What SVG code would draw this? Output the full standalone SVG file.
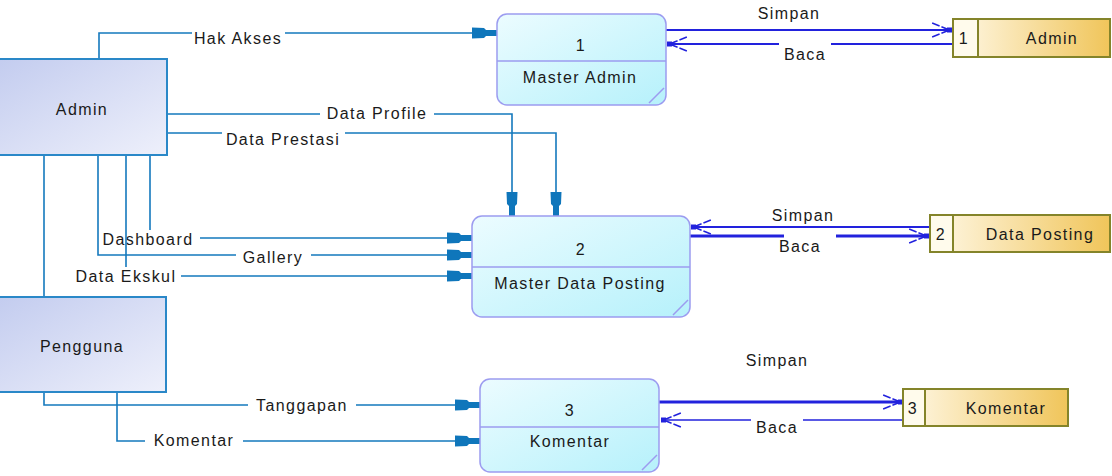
<svg xmlns="http://www.w3.org/2000/svg" width="1112" height="476" viewBox="0 0 1112 476">
<style>
text{font-family:"Liberation Sans",Arial,sans-serif;font-size:16px;letter-spacing:1.4px;fill:#1a1a1a;text-anchor:middle}
.ent{stroke:#2a88c8;stroke-width:2;fill:url(#gEnt)}
.proc{stroke:#9c9cf0;stroke-width:1.5;fill:url(#gProc)}
.pdiv{stroke:#9c9cf0;stroke-width:1.5;fill:none}
.st{stroke:#84842a;stroke-width:2}
.c{stroke:#1479bd;stroke-width:1.6;fill:none}
.s{stroke:#2222dd;fill:none}
.bg{fill:#fff}
</style>
<defs>
<linearGradient id="gEnt" x1="0" y1="0" x2="1" y2="1">
<stop offset="0" stop-color="#c3ccef"/>
<stop offset="1" stop-color="#eef0fb"/>
</linearGradient>
<linearGradient id="gProc" x1="0" y1="0" x2="1" y2="1">
<stop offset="0" stop-color="#ecfcff"/>
<stop offset="1" stop-color="#b6f1fb"/>
</linearGradient>
<linearGradient id="gStore" x1="0" y1="0" x2="1" y2="0">
<stop offset="0" stop-color="#fff8e6"/>
<stop offset="1" stop-color="#f0c55a"/>
</linearGradient>
<marker id="ah" markerUnits="userSpaceOnUse" viewBox="-26 -7 27 14" markerWidth="27" markerHeight="14" refX="0" refY="0" orient="auto">
<path d="M-25,-5.5 L-13,-5 L-11,-3 L0,-3 L0,3 L-11,3 L-13,5 L-25,5.5 Z" fill="#0f76bb"/>
</marker>
<marker id="oa" markerUnits="userSpaceOnUse" viewBox="-22 -9 23 18" markerWidth="23" markerHeight="18" refX="0" refY="0" orient="auto">
<rect x="-5" y="-2.5" width="5" height="5" fill="#2222dd"/>
<path d="M-5,-1 L-20,-7 M-5,1 L-20,7" stroke="#2222dd" stroke-width="1.5" stroke-dasharray="6,2,8" fill="none"/>
</marker>
</defs>
<rect width="1112" height="476" fill="#fff"/>

<g id="connectors">
<path class="c" d="M44,155 V297"/>
<path class="c" d="M99,59 V33 H497" stroke-width="2.2" marker-end="url(#ah)"/>
<rect class="bg" x="192" y="28" width="93" height="18"/>
<text x="238" y="44">Hak Akses</text>
<path class="c" d="M167,114 H512 V217" marker-end="url(#ah)"/>
<rect class="bg" x="320" y="106" width="114" height="15"/>
<text x="377" y="119">Data Profile</text>
<path class="c" d="M167,133 H556 V217" marker-end="url(#ah)"/>
<rect class="bg" x="222" y="131" width="123" height="16"/>
<text x="283" y="145">Data Prestasi</text>
<path class="c" d="M150,155 V238 H472" marker-end="url(#ah)"/>
<rect class="bg" x="97" y="230" width="103" height="17"/>
<text x="148" y="245">Dashboard</text>
<path class="c" d="M98,155 V255 H472" marker-end="url(#ah)"/>
<rect class="bg" x="236" y="249" width="75" height="18"/>
<text x="273" y="263">Gallery</text>
<path class="c" d="M126,155 V276 H472" marker-end="url(#ah)"/>
<rect class="bg" x="72" y="267" width="109" height="17"/>
<text x="126" y="282">Data Ekskul</text>
<path class="c" d="M44,392 V405 H480" marker-end="url(#ah)"/>
<rect class="bg" x="248" y="396" width="108" height="19"/>
<text x="302" y="411">Tanggapan</text>
<path class="c" d="M117,392 V441 H480" marker-end="url(#ah)"/>
<rect class="bg" x="145" y="432" width="98" height="16"/>
<text x="194" y="446">Komentar</text>

<path class="s" stroke-width="2" d="M666,30 H952" marker-end="url(#oa)"/>
<text x="789" y="19">Simpan</text>
<path class="s" stroke-width="2" d="M952,44 H667" marker-end="url(#oa)"/>
<rect class="bg" x="779" y="40" width="52" height="16"/>
<text x="805" y="60">Baca</text>

<path class="s" stroke-width="2" d="M929,227 H691" marker-end="url(#oa)"/>
<text x="803" y="221">Simpan</text>
<path class="s" stroke-width="3" d="M690,236 H929" marker-end="url(#oa)"/>
<rect class="bg" x="784" y="233" width="52" height="6"/>
<text x="800" y="252">Baca</text>

<path class="s" stroke-width="3" d="M659,402 H903" marker-end="url(#oa)"/>
<text x="777" y="366">Simpan</text>
<path class="s" stroke-width="1.6" d="M903,420 H661" marker-end="url(#oa)"/>
<rect class="bg" x="751" y="416" width="52" height="16"/>
<text x="777" y="433">Baca</text>
</g>

<g id="admin">
<rect class="ent" x="-2" y="59" width="169" height="96"/>
<text x="82" y="115">Admin</text>
</g>
<g id="pengguna">
<rect class="ent" x="-2" y="297" width="168" height="95"/>
<text x="82" y="352">Pengguna</text>
</g>

<g id="p1">
<rect class="proc" x="497" y="14" width="169" height="91" rx="10"/>
<path class="pdiv" d="M497,61 H666 M664,88 L649,103"/>
<text x="581" y="51">1</text>
<text x="580" y="83">Master Admin</text>
</g>
<g id="p2">
<rect class="proc" x="472" y="216" width="218" height="101" rx="10"/>
<path class="pdiv" d="M472,267 H690 M688,300 L673,315"/>
<text x="581" y="255">2</text>
<text x="580" y="289">Master Data Posting</text>
</g>
<g id="p3">
<rect class="proc" x="480" y="379" width="179" height="93" rx="10"/>
<path class="pdiv" d="M480,427 H659 M657,455 L642,470"/>
<text x="570" y="416">3</text>
<text x="570" y="447">Komentar</text>
</g>

<g id="s1">
<rect class="st" x="953" y="19" width="157" height="38" fill="url(#gStore)"/>
<rect class="st" x="953" y="19" width="25" height="38" fill="#fffbec"/>
<text x="964" y="44">1</text>
<text x="1052" y="44">Admin</text>
</g>
<g id="s2">
<rect class="st" x="930" y="215" width="180" height="37" fill="url(#gStore)"/>
<rect class="st" x="930" y="215" width="23" height="37" fill="#fffbec"/>
<text x="941" y="240">2</text>
<text x="1040" y="240">Data Posting</text>
</g>
<g id="s3">
<rect class="st" x="903" y="389" width="165" height="37" fill="url(#gStore)"/>
<rect class="st" x="903" y="389" width="22" height="37" fill="#fffbec"/>
<text x="913" y="414">3</text>
<text x="1006" y="414">Komentar</text>
</g>
</svg>
